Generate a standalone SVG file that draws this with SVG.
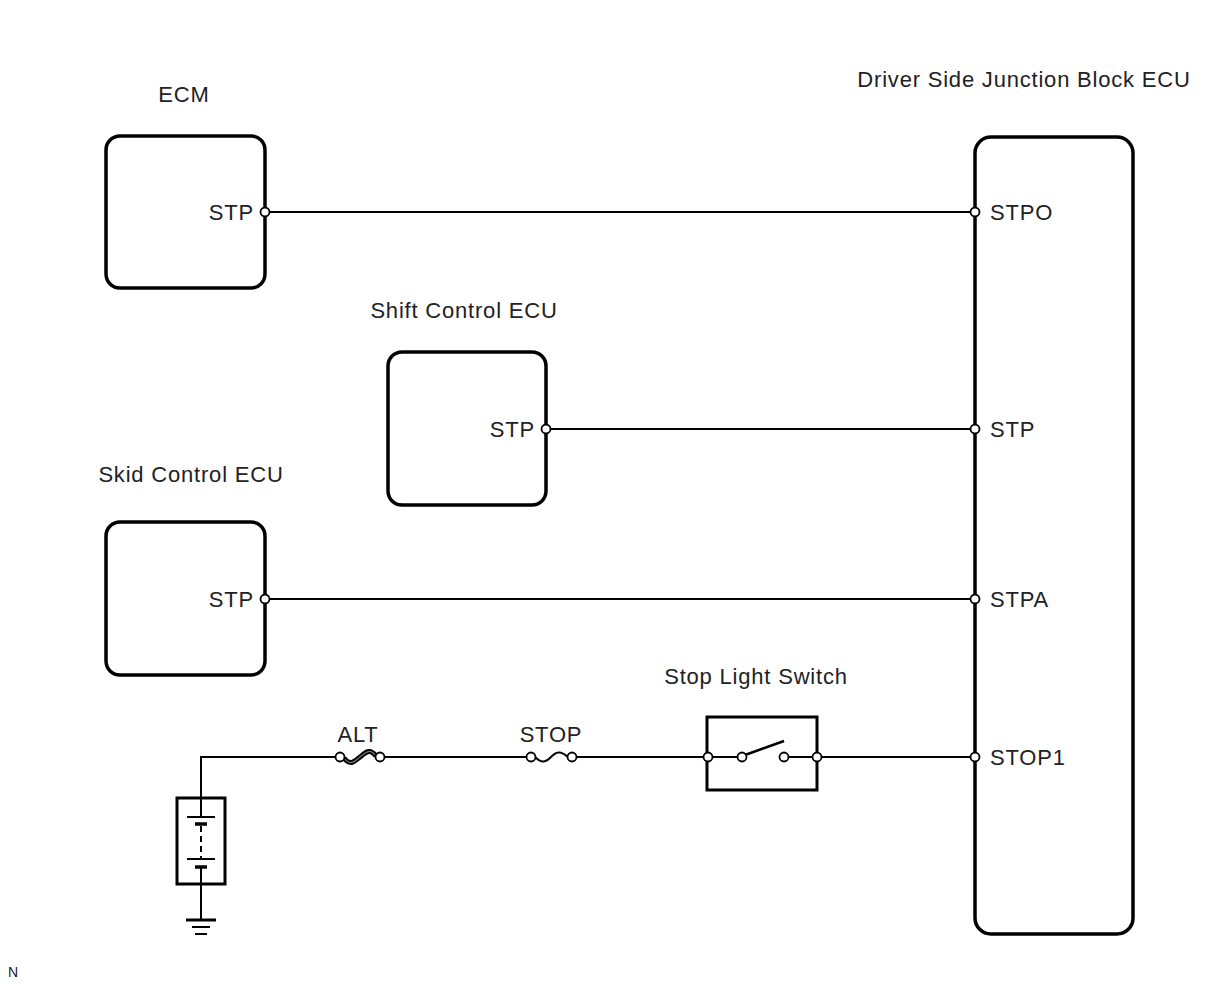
<svg xmlns="http://www.w3.org/2000/svg" width="1210" height="986" viewBox="0 0 1210 986">
<style>
.box{fill:#fff;stroke:#000;stroke-width:3.5}
.wire{fill:none;stroke:#000;stroke-width:2}
.pin{fill:#fff;stroke:#000;stroke-width:1.8}
.t{font-family:"Liberation Sans",Arial,sans-serif;font-size:22px;letter-spacing:0.8px;fill:#222}
.ts{font-family:"Liberation Sans",Arial,sans-serif;font-size:14px;fill:#222}
</style>
<rect width="1210" height="986" fill="#fff"/>
<g id="connectors">
<line class="wire" x1="265" y1="212" x2="975" y2="212"/>
<line class="wire" x1="546" y1="429" x2="975" y2="429"/>
<line class="wire" x1="265" y1="599" x2="975" y2="599"/>
<polyline class="wire" points="201,798 201,757 340,757"/>
<line class="wire" x1="380" y1="757" x2="531" y2="757"/>
<line class="wire" x1="572" y1="757" x2="708" y2="757"/>
<line class="wire" x1="817" y1="757" x2="975" y2="757"/>
</g>
<g id="ecm">
<rect class="box" x="106" y="136" width="159" height="152" rx="14"/>
<text class="t" x="184" y="102" text-anchor="middle">ECM</text>
<text class="t" x="254" y="220" text-anchor="end">STP</text>
<circle class="pin" cx="265" cy="212" r="4.5"/>
</g>
<g id="shift-control-ecu">
<rect class="box" x="388" y="352" width="158" height="153" rx="14"/>
<text class="t" x="464" y="318" text-anchor="middle">Shift Control ECU</text>
<text class="t" x="535" y="437" text-anchor="end">STP</text>
<circle class="pin" cx="546" cy="429" r="4.5"/>
</g>
<g id="skid-control-ecu">
<rect class="box" x="106" y="522" width="159" height="153" rx="14"/>
<text class="t" x="191" y="482" text-anchor="middle">Skid Control ECU</text>
<text class="t" x="254" y="607" text-anchor="end">STP</text>
<circle class="pin" cx="265" cy="599" r="4.5"/>
</g>
<g id="junction-block">
<rect class="box" x="975" y="137" width="158" height="797" rx="16"/>
<text class="t" x="1024" y="87" text-anchor="middle">Driver Side Junction Block ECU</text>
<text class="t" x="990" y="220">STPO</text>
<text class="t" x="990" y="437">STP</text>
<text class="t" x="990" y="607">STPA</text>
<text class="t" x="990" y="765">STOP1</text>
<circle class="pin" cx="975" cy="212" r="4.5"/>
<circle class="pin" cx="975" cy="429" r="4.5"/>
<circle class="pin" cx="975" cy="599" r="4.5"/>
<circle class="pin" cx="975" cy="757" r="4.5"/>
</g>
<g id="alt-fuse">
<text class="t" x="358" y="742" text-anchor="middle">ALT</text>
<path d="M344,758 C350,766 354,762 360,757 C366,752 370,748 376,756" fill="none" stroke="#000" stroke-width="5"/>
<path d="M344,758 C350,766 354,762 360,757 C366,752 370,748 376,756" fill="none" stroke="#777" stroke-width="1.2"/>
<circle class="pin" cx="340" cy="757" r="4.5"/>
<circle class="pin" cx="380" cy="757" r="4.5"/>
</g>
<g id="stop-fuse">
<text class="t" x="551" y="742" text-anchor="middle">STOP</text>
<path d="M535,757 C542,764 546,762 551,757 C556,752 560,750 568,757" fill="none" stroke="#000" stroke-width="2"/>
<circle class="pin" cx="531" cy="757" r="4.5"/>
<circle class="pin" cx="572" cy="757" r="4.5"/>
</g>
<g id="stop-light-switch">
<text class="t" x="756" y="684" text-anchor="middle">Stop Light Switch</text>
<rect x="707" y="717" width="110" height="73" fill="#fff" stroke="#000" stroke-width="3"/>
<line class="wire" x1="708" y1="757" x2="742" y2="757"/>
<line class="wire" x1="784" y1="757" x2="817" y2="757"/>
<line x1="745" y1="755" x2="784" y2="741" stroke="#000" stroke-width="2.5"/>
<circle class="pin" cx="708" cy="757" r="4.5"/>
<circle class="pin" cx="742" cy="757" r="4.5"/>
<circle class="pin" cx="784" cy="757" r="4.5"/>
<circle class="pin" cx="817" cy="757" r="4.5"/>
</g>
<g id="battery">
<rect x="177" y="798" width="48" height="86" fill="#fff" stroke="#000" stroke-width="3"/>
<line class="wire" x1="201" y1="798" x2="201" y2="817"/>
<line x1="187" y1="817" x2="215" y2="817" stroke="#000" stroke-width="2"/>
<line x1="195" y1="824" x2="207" y2="824" stroke="#000" stroke-width="3.5"/>
<line x1="201" y1="826" x2="201" y2="859" stroke="#000" stroke-width="2" stroke-dasharray="6,4"/>
<line x1="187" y1="859" x2="215" y2="859" stroke="#000" stroke-width="2"/>
<line x1="195" y1="867" x2="207" y2="867" stroke="#000" stroke-width="3.5"/>
<line class="wire" x1="201" y1="867" x2="201" y2="920"/>
</g>
<g id="ground">
<line x1="186" y1="920" x2="216" y2="920" stroke="#000" stroke-width="3"/>
<line x1="192" y1="927" x2="210" y2="927" stroke="#000" stroke-width="2"/>
<line x1="195" y1="934" x2="207" y2="934" stroke="#000" stroke-width="2"/>
</g>
<text class="ts" x="8" y="977">N</text>
</svg>
